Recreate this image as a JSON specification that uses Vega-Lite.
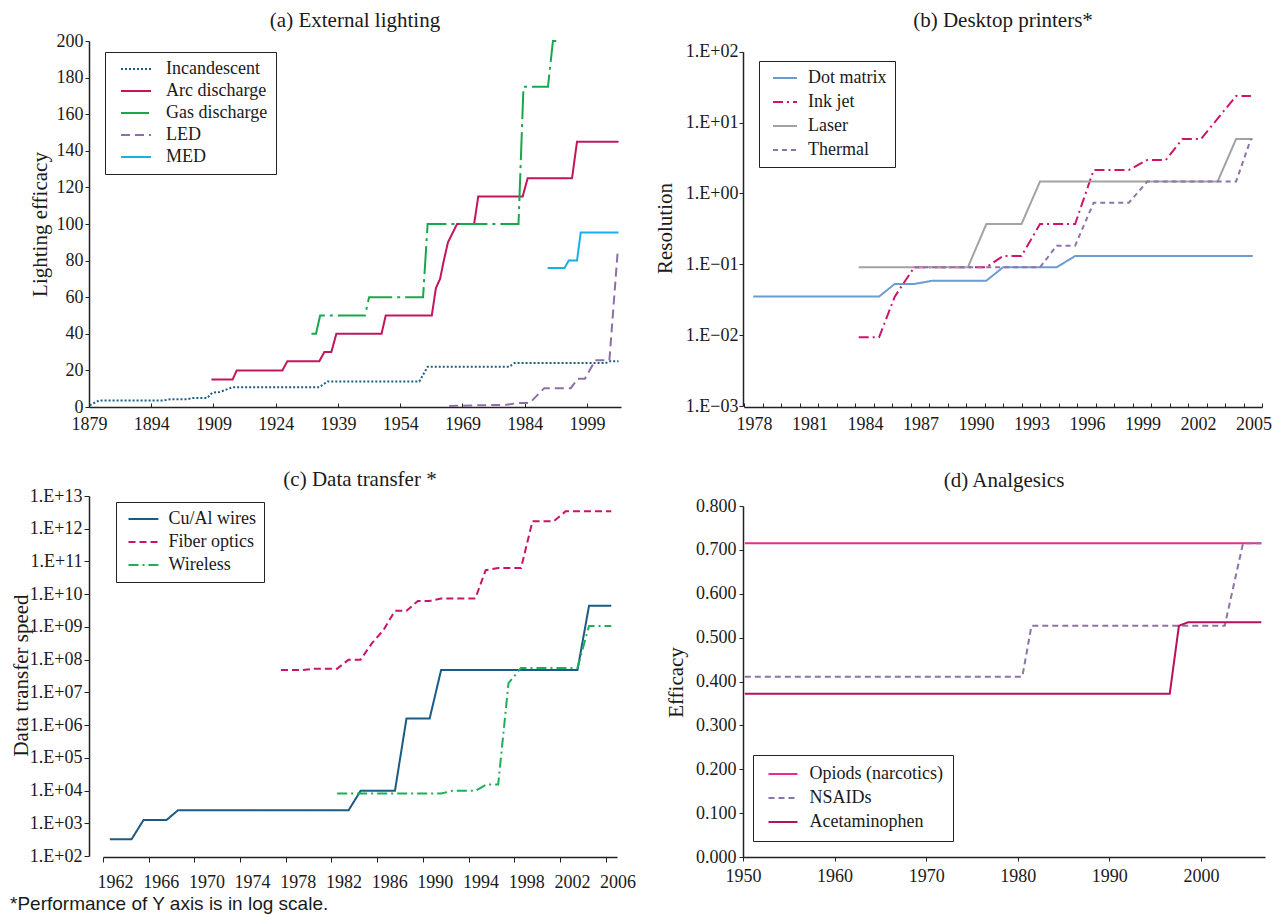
{
  "$schema": "https://vega.github.io/schema/vega-lite/v6.json",
  "background": "white",
  "padding": {"left": 10, "top": 10, "right": 5, "bottom": 5},
  "bounds": "flush",
  "columns": 2,
  "spacing": {"row": 89, "column": 122},
  "resolve": {"scale": {"color": "independent", "strokeDash": "independent"}, "legend": {"color": "independent", "strokeDash": "independent"}},
  "title": {"text": "*Performance of Y axis is in log scale.", "orient": "bottom", "anchor": "start", "frame": "bounds", "font": "Liberation Sans", "fontSize": 19, "fontWeight": "normal", "color": "#1a1a1a", "offset": 4},
  "datasets": {
    "lighting": [
      {"s": "Incandescent", "x": 1879.2, "y": 0.9}, {"s": "Incandescent", "x": 1881.4, "y": 3.6}, {"s": "Incandescent", "x": 1897, "y": 3.6}, {"s": "Incandescent", "x": 1898.5, "y": 4.2}, {"s": "Incandescent", "x": 1902.7, "y": 4.2}, {"s": "Incandescent", "x": 1904, "y": 4.9}, {"s": "Incandescent", "x": 1907.5, "y": 4.9}, {"s": "Incandescent", "x": 1908.7, "y": 7.8}, {"s": "Incandescent", "x": 1910.5, "y": 8.2}, {"s": "Incandescent", "x": 1913.6, "y": 10.8}, {"s": "Incandescent", "x": 1934.5, "y": 10.8}, {"s": "Incandescent", "x": 1936.5, "y": 14}, {"s": "Incandescent", "x": 1958.6, "y": 14}, {"s": "Incandescent", "x": 1960.6, "y": 22}, {"s": "Incandescent", "x": 1980.3, "y": 22}, {"s": "Incandescent", "x": 1981.5, "y": 24}, {"s": "Incandescent", "x": 2003.5, "y": 24}, {"s": "Incandescent", "x": 2004.5, "y": 25}, {"s": "Incandescent", "x": 2006.6, "y": 25},
      {"s": "Arc discharge", "x": 1908.5, "y": 15}, {"s": "Arc discharge", "x": 1913.6, "y": 15}, {"s": "Arc discharge", "x": 1914.6, "y": 20}, {"s": "Arc discharge", "x": 1925.6, "y": 20}, {"s": "Arc discharge", "x": 1926.8, "y": 25}, {"s": "Arc discharge", "x": 1934.5, "y": 25}, {"s": "Arc discharge", "x": 1935.7, "y": 30}, {"s": "Arc discharge", "x": 1937.4, "y": 30}, {"s": "Arc discharge", "x": 1938.6, "y": 40}, {"s": "Arc discharge", "x": 1949.5, "y": 40}, {"s": "Arc discharge", "x": 1950.5, "y": 50}, {"s": "Arc discharge", "x": 1961.6, "y": 50}, {"s": "Arc discharge", "x": 1962.6, "y": 65}, {"s": "Arc discharge", "x": 1963.6, "y": 70}, {"s": "Arc discharge", "x": 1964.5, "y": 80}, {"s": "Arc discharge", "x": 1965.5, "y": 90}, {"s": "Arc discharge", "x": 1967.7, "y": 100}, {"s": "Arc discharge", "x": 1971.8, "y": 100}, {"s": "Arc discharge", "x": 1972.8, "y": 115}, {"s": "Arc discharge", "x": 1983.5, "y": 115}, {"s": "Arc discharge", "x": 1984.7, "y": 125}, {"s": "Arc discharge", "x": 1995.4, "y": 125}, {"s": "Arc discharge", "x": 1996.6, "y": 145}, {"s": "Arc discharge", "x": 2006.6, "y": 145},
      {"s": "Gas discharge", "x": 1932.6, "y": 40}, {"s": "Gas discharge", "x": 1933.7, "y": 40}, {"s": "Gas discharge", "x": 1934.7, "y": 50}, {"s": "Gas discharge", "x": 1945.5, "y": 50}, {"s": "Gas discharge", "x": 1946.5, "y": 60}, {"s": "Gas discharge", "x": 1959.5, "y": 60}, {"s": "Gas discharge", "x": 1960.6, "y": 100}, {"s": "Gas discharge", "x": 1982.5, "y": 100}, {"s": "Gas discharge", "x": 1983.7, "y": 175}, {"s": "Gas discharge", "x": 1989.6, "y": 175}, {"s": "Gas discharge", "x": 1990.8, "y": 200}, {"s": "Gas discharge", "x": 1991.6, "y": 200},
      {"s": "LED", "x": 1965.8, "y": 0.5}, {"s": "LED", "x": 1972.6, "y": 0.9}, {"s": "LED", "x": 1979.5, "y": 1.2}, {"s": "LED", "x": 1982.5, "y": 2.2}, {"s": "LED", "x": 1985.2, "y": 2.2}, {"s": "LED", "x": 1988.7, "y": 10.3}, {"s": "LED", "x": 1995.1, "y": 10.3}, {"s": "LED", "x": 1996.8, "y": 15.5}, {"s": "LED", "x": 1998.5, "y": 15.5}, {"s": "LED", "x": 2001, "y": 25.5}, {"s": "LED", "x": 2004.4, "y": 25.5}, {"s": "LED", "x": 2006.4, "y": 85},
      {"s": "MED", "x": 1989.5, "y": 76}, {"s": "MED", "x": 1993.6, "y": 76}, {"s": "MED", "x": 1994.6, "y": 80}, {"s": "MED", "x": 1996.6, "y": 80}, {"s": "MED", "x": 1997.5, "y": 95.4}, {"s": "MED", "x": 2006.6, "y": 95.4}
    ],
    "printers": [
      {"s": "Dot matrix", "x": 1978, "y": 0.035}, {"s": "Dot matrix", "x": 1984.8, "y": 0.035}, {"s": "Dot matrix", "x": 1985.65, "y": 0.0527}, {"s": "Dot matrix", "x": 1986.7, "y": 0.0527}, {"s": "Dot matrix", "x": 1987.7, "y": 0.0587}, {"s": "Dot matrix", "x": 1990.6, "y": 0.0587}, {"s": "Dot matrix", "x": 1991.5, "y": 0.0906}, {"s": "Dot matrix", "x": 1994.4, "y": 0.0906}, {"s": "Dot matrix", "x": 1995.4, "y": 0.131}, {"s": "Dot matrix", "x": 2005, "y": 0.131},
      {"s": "Ink jet", "x": 1983.7, "y": 0.0093}, {"s": "Ink jet", "x": 1984.8, "y": 0.0093}, {"s": "Ink jet", "x": 1985.65, "y": 0.035}, {"s": "Ink jet", "x": 1986.7, "y": 0.0906}, {"s": "Ink jet", "x": 1990.6, "y": 0.0906}, {"s": "Ink jet", "x": 1991.5, "y": 0.131}, {"s": "Ink jet", "x": 1992.5, "y": 0.131}, {"s": "Ink jet", "x": 1993.5, "y": 0.37}, {"s": "Ink jet", "x": 1995.4, "y": 0.37}, {"s": "Ink jet", "x": 1996.4, "y": 2.14}, {"s": "Ink jet", "x": 1998.3, "y": 2.14}, {"s": "Ink jet", "x": 1999.3, "y": 2.97}, {"s": "Ink jet", "x": 2000.3, "y": 2.97}, {"s": "Ink jet", "x": 2001.2, "y": 5.86}, {"s": "Ink jet", "x": 2002.2, "y": 5.86}, {"s": "Ink jet", "x": 2004.1, "y": 23.7}, {"s": "Ink jet", "x": 2004.9, "y": 23.7},
      {"s": "Laser", "x": 1983.7, "y": 0.0906}, {"s": "Laser", "x": 1989.6, "y": 0.0906}, {"s": "Laser", "x": 1990.6, "y": 0.37}, {"s": "Laser", "x": 1992.5, "y": 0.37}, {"s": "Laser", "x": 1993.5, "y": 1.47}, {"s": "Laser", "x": 2003.1, "y": 1.47}, {"s": "Laser", "x": 2004.1, "y": 5.86}, {"s": "Laser", "x": 2005, "y": 5.86},
      {"s": "Thermal", "x": 1986.7, "y": 0.0906}, {"s": "Thermal", "x": 1993.5, "y": 0.0906}, {"s": "Thermal", "x": 1994.4, "y": 0.183}, {"s": "Thermal", "x": 1995.4, "y": 0.183}, {"s": "Thermal", "x": 1996.4, "y": 0.74}, {"s": "Thermal", "x": 1998.3, "y": 0.74}, {"s": "Thermal", "x": 1999.3, "y": 1.47}, {"s": "Thermal", "x": 2004.1, "y": 1.47}, {"s": "Thermal", "x": 2004.9, "y": 5.86}
    ],
    "transfer": [
      {"s": "Cu/Al wires", "x": 1962.1, "y": 324}, {"s": "Cu/Al wires", "x": 1964, "y": 324}, {"s": "Cu/Al wires", "x": 1965.05, "y": 1260}, {"s": "Cu/Al wires", "x": 1967.06, "y": 1260}, {"s": "Cu/Al wires", "x": 1968.07, "y": 2500}, {"s": "Cu/Al wires", "x": 1983, "y": 2500}, {"s": "Cu/Al wires", "x": 1984.05, "y": 9800}, {"s": "Cu/Al wires", "x": 1987.06, "y": 9800}, {"s": "Cu/Al wires", "x": 1988.07, "y": 1600000}, {"s": "Cu/Al wires", "x": 1990.1, "y": 1600000}, {"s": "Cu/Al wires", "x": 1991.1, "y": 48000000}, {"s": "Cu/Al wires", "x": 2003.04, "y": 48000000}, {"s": "Cu/Al wires", "x": 2004.05, "y": 4400000000}, {"s": "Cu/Al wires", "x": 2006, "y": 4400000000},
      {"s": "Fiber optics", "x": 1977.08, "y": 48000000}, {"s": "Fiber optics", "x": 1979, "y": 48000000}, {"s": "Fiber optics", "x": 1980, "y": 53000000}, {"s": "Fiber optics", "x": 1982, "y": 53000000}, {"s": "Fiber optics", "x": 1983, "y": 100000000}, {"s": "Fiber optics", "x": 1984.05, "y": 100000000}, {"s": "Fiber optics", "x": 1985.05, "y": 320000000}, {"s": "Fiber optics", "x": 1986.05, "y": 800000000}, {"s": "Fiber optics", "x": 1987.06, "y": 3100000000}, {"s": "Fiber optics", "x": 1988.07, "y": 3100000000}, {"s": "Fiber optics", "x": 1989.07, "y": 6200000000}, {"s": "Fiber optics", "x": 1990.1, "y": 6200000000}, {"s": "Fiber optics", "x": 1991.1, "y": 7400000000}, {"s": "Fiber optics", "x": 1994.1, "y": 7400000000}, {"s": "Fiber optics", "x": 1995, "y": 54000000000}, {"s": "Fiber optics", "x": 1996.1, "y": 63000000000}, {"s": "Fiber optics", "x": 1998.1, "y": 63000000000}, {"s": "Fiber optics", "x": 1999.1, "y": 1700000000000}, {"s": "Fiber optics", "x": 2000.96, "y": 1700000000000}, {"s": "Fiber optics", "x": 2002, "y": 3400000000000}, {"s": "Fiber optics", "x": 2006, "y": 3400000000000},
      {"s": "Wireless", "x": 1982, "y": 8100}, {"s": "Wireless", "x": 1991.1, "y": 8100}, {"s": "Wireless", "x": 1992.1, "y": 9800}, {"s": "Wireless", "x": 1994.1, "y": 9800}, {"s": "Wireless", "x": 1995.1, "y": 15400}, {"s": "Wireless", "x": 1996.1, "y": 15400}, {"s": "Wireless", "x": 1997, "y": 19000000}, {"s": "Wireless", "x": 1998.1, "y": 56000000}, {"s": "Wireless", "x": 2003.04, "y": 56000000}, {"s": "Wireless", "x": 2004.05, "y": 1070000000}, {"s": "Wireless", "x": 2006, "y": 1070000000}
    ],
    "analgesics": [
      {"s": "Opiods (narcotics)", "x": 1950.2, "y": 0.715}, {"s": "Opiods (narcotics)", "x": 2006.6, "y": 0.715},
      {"s": "NSAIDs", "x": 1950.2, "y": 0.411}, {"s": "NSAIDs", "x": 1980.5, "y": 0.411}, {"s": "NSAIDs", "x": 1981.5, "y": 0.527}, {"s": "NSAIDs", "x": 2002.6, "y": 0.527}, {"s": "NSAIDs", "x": 2004.6, "y": 0.715}, {"s": "NSAIDs", "x": 2006.6, "y": 0.715},
      {"s": "Acetaminophen", "x": 1950.2, "y": 0.372}, {"s": "Acetaminophen", "x": 1996.6, "y": 0.372}, {"s": "Acetaminophen", "x": 1997.6, "y": 0.527}, {"s": "Acetaminophen", "x": 1998.6, "y": 0.535}, {"s": "Acetaminophen", "x": 2006.6, "y": 0.535}
    ]
  },
  "concat": [
    {
      "title": {"text": "(a) External lighting", "offset": 5, "dy": 21, "baseline": "alphabetic", "anchor": "middle", "frame": "group"},
      "width": 532, "height": 366,
      "data": {"name": "lighting"},
      "mark": {"type": "line", "strokeWidth": 2},
      "encoding": {
        "x": {"field": "x", "type": "quantitative", "scale": {"domain": [1879, 2007.2], "nice": false, "zero": false},
          "axis": {"title": null, "values": [1879, 1894, 1909, 1924, 1939, 1954, 1969, 1984, 1999], "format": "d", "tickSize": -4, "labelPadding": 12}},
        "y": {"field": "y", "type": "quantitative", "scale": {"domain": [0, 200], "nice": false, "zero": false},
          "axis": {"title": "Lighting efficacy", "values": [0, 20, 40, 60, 80, 100, 120, 140, 160, 180, 200], "tickSize": 4, "labelPadding": 2, "titleX": -49, "titleY": 183, "titleAngle": -90, "titleAlign": "center", "titleBaseline": "middle"}},
        "color": {"field": "s", "type": "nominal", "scale": {"domain": ["Incandescent", "Arc discharge", "Gas discharge", "LED", "MED"], "range": ["#1b5e82", "#c2155c", "#18a84c", "#8d6fa6", "#17b0ea"]},
          "legend": {"orient": "none", "legendX": 16, "legendY": 11, "title": null, "rowPadding": 4, "labelOffset": 35, "symbolType": "M-0.2,0H5.8"}},
        "strokeDash": {"field": "s", "type": "nominal", "scale": {"domain": ["Incandescent", "Arc discharge", "Gas discharge", "LED", "MED"], "range": [[2, 2], [1, 0], [28, 5, 3, 5], [9, 5], [1, 0]]},
          "legend": {"orient": "none", "legendX": 16, "legendY": 11, "title": null, "rowPadding": 4, "labelOffset": 35, "symbolType": "M-0.2,0H5.8"}}
      }
    },
    {
      "title": {"text": "(b) Desktop printers*", "offset": 14, "dy": 21, "baseline": "alphabetic", "anchor": "middle", "frame": "group"},
      "width": 520, "height": 366,
      "data": {"name": "printers"},
      "mark": {"type": "line", "strokeWidth": 2},
      "encoding": {
        "x": {"field": "x", "type": "quantitative", "scale": {"domain": [1977.5, 2005.5], "range": [1, 519], "nice": false, "zero": false},
          "axis": {"title": null, "values": [1977.5, 1978.5, 1979.5, 1980.5, 1981.5, 1982.5, 1983.5, 1984.5, 1985.5, 1986.5, 1987.5, 1988.5, 1989.5, 1990.5, 1991.5, 1992.5, 1993.5, 1994.5, 1995.5, 1996.5, 1997.5, 1998.5, 1999.5, 2000.5, 2001.5, 2002.5, 2003.5, 2004.5, 2005.5],
            "labelExpr": "((datum.value + 0.5 - 1978) % 3 == 0 && datum.value < 2005) ? '' + (datum.value + 0.5) : ''", "labelOffset": 10, "tickSize": -4, "labelPadding": 12}},
        "y": {"field": "y", "type": "quantitative", "scale": {"type": "log", "domain": [0.001, 100], "range": [365, 10.7], "nice": false, "zero": false},
          "axis": {"title": "Resolution", "values": [0.001, 0.01, 0.1, 1, 10, 100], "labelExpr": "'1.E' + (datum.value >= 1 ? '+' : '\u2212') + '0' + abs(round(log(datum.value) / LN10))", "tickSize": 4, "labelPadding": 1, "titleX": -78, "titleY": 187, "titleAngle": -90, "titleAlign": "center", "titleBaseline": "middle"}},
        "color": {"field": "s", "type": "nominal", "scale": {"domain": ["Dot matrix", "Ink jet", "Laser", "Thermal"], "range": ["#6c9bd0", "#d0136a", "#a2a2a2", "#8e73aa"]},
          "legend": {"orient": "none", "legendX": 16, "legendY": 20, "title": null, "rowPadding": 6, "labelOffset": 23, "symbolType": "M-0.6,0H4.2"}},
        "strokeDash": {"field": "s", "type": "nominal", "scale": {"domain": ["Dot matrix", "Ink jet", "Laser", "Thermal"], "range": [[1, 0], [10, 4, 2, 4], [1, 0], [5, 4]]},
          "legend": {"orient": "none", "legendX": 16, "legendY": 20, "title": null, "rowPadding": 6, "labelOffset": 23, "symbolType": "M-0.6,0H4.2"}}
      }
    },
    {
      "title": {"text": "(c) Data transfer *", "offset": 1, "dy": 21, "baseline": "alphabetic", "anchor": "middle", "frame": "group", "dx": 7},
      "width": 528, "height": 361,
      "data": {"name": "transfer"},
      "mark": {"type": "line", "strokeWidth": 2},
      "encoding": {
        "x": {"field": "x", "type": "quantitative", "scale": {"domain": [1961.5, 2006.5], "range": [14, 528], "nice": false, "zero": false},
          "axis": {"title": null, "values": [1961.5, 1965.5, 1969.5, 1973.5, 1977.5, 1981.5, 1985.5, 1989.5, 1993.5, 1997.5, 2001.5, 2005.5],
            "labelExpr": "'' + (datum.value + 0.5)", "labelOffset": 12, "tickSize": 5, "labelPadding": 11}},
        "y": {"field": "y", "type": "quantitative", "scale": {"type": "log", "domain": [100, 10000000000000], "range": [360, 0], "nice": false, "zero": false},
          "axis": {"title": "Data transfer speed", "values": [100, 1000, 10000, 100000, 1000000, 10000000, 100000000, 1000000000, 10000000000, 100000000000, 1000000000000, 10000000000000], "labelExpr": "'1.E+' + (round(log(datum.value) / LN10) < 10 ? '0' : '') + round(log(datum.value) / LN10)", "tickSize": 5, "labelPadding": 2, "titleX": -68, "titleY": 179, "titleAngle": -90, "titleAlign": "center", "titleBaseline": "middle"}},
        "color": {"field": "s", "type": "nominal", "scale": {"domain": ["Cu/Al wires", "Fiber optics", "Wireless"], "range": ["#1b5a82", "#c8146a", "#1cae58"]},
          "legend": {"orient": "none", "legendX": 27, "legendY": 6, "title": null, "rowPadding": 5, "labelOffset": 26.5, "symbolType": "M-0.9,0H5.08"}},
        "strokeDash": {"field": "s", "type": "nominal", "scale": {"domain": ["Cu/Al wires", "Fiber optics", "Wireless"], "range": [[1, 0], [7, 4], [10, 4, 2, 4]]},
          "legend": {"orient": "none", "legendX": 27, "legendY": 6, "title": null, "rowPadding": 5, "labelOffset": 26.5, "symbolType": "M-0.9,0H5.08"}}
      }
    },
    {
      "title": {"text": "(d) Analgesics", "offset": 9, "dy": 21, "baseline": "alphabetic", "anchor": "middle", "frame": "group"},
      "width": 522, "height": 361,
      "data": {"name": "analgesics"},
      "mark": {"type": "line", "strokeWidth": 2},
      "encoding": {
        "x": {"field": "x", "type": "quantitative", "scale": {"domain": [1950, 2007], "nice": false, "zero": false},
          "axis": {"title": null, "values": [1950, 1960, 1970, 1980, 1990, 2000], "format": "d", "tickSize": 4, "labelPadding": 6}},
        "y": {"field": "y", "type": "quantitative", "scale": {"domain": [0, 0.8], "range": [361, 10], "nice": false, "zero": false},
          "axis": {"title": "Efficacy", "values": [0, 0.1, 0.2, 0.3, 0.4, 0.5, 0.6, 0.7, 0.8], "format": ".3f", "tickSize": 4, "labelPadding": 3, "titleX": -67, "titleY": 186, "titleAngle": -90, "titleAlign": "center", "titleBaseline": "middle"}},
        "color": {"field": "s", "type": "nominal", "scale": {"domain": ["Opiods (narcotics)", "NSAIDs", "Acetaminophen"], "range": ["#ec2a8a", "#8c74a6", "#b80f5e"]},
          "legend": {"orient": "none", "legendX": 10, "legendY": 259, "title": null, "rowPadding": 6, "padding": 10, "labelOffset": 28.5, "symbolType": "M-0.7,0H5.1"}},
        "strokeDash": {"field": "s", "type": "nominal", "scale": {"domain": ["Opiods (narcotics)", "NSAIDs", "Acetaminophen"], "range": [[1, 0], [6, 4], [1, 0]]},
          "legend": {"orient": "none", "legendX": 10, "legendY": 259, "title": null, "rowPadding": 6, "padding": 10, "labelOffset": 28.5, "symbolType": "M-0.7,0H5.1"}}
      }
    }
  ],
  "config": {
    "font": "Liberation Serif",
    "view": {"stroke": null},
    "axis": {"labelFont": "Liberation Serif", "labelFontSize": 18, "labelColor": "#1a1a1a", "titleFont": "Liberation Serif", "titleFontSize": 21, "titleFontWeight": "normal", "titleColor": "#1a1a1a", "domainColor": "#222222", "domainWidth": 1.5, "tickColor": "#222222", "tickWidth": 1, "grid": false, "labelFlush": false, "labelOverlap": false, "labelBound": false},
    "legend": {"labelFont": "Liberation Serif", "labelFontSize": 18, "labelColor": "#1a1a1a", "strokeColor": "#222222", "fillColor": "white", "padding": 8, "symbolType": "M-0.2,0H5.8", "symbolSize": 100, "symbolStrokeWidth": 2, "labelOffset": 30, "labelLimit": 300},
    "title": {"font": "Liberation Serif", "fontSize": 21, "fontWeight": "normal", "color": "#1a1a1a"}
  }
}
